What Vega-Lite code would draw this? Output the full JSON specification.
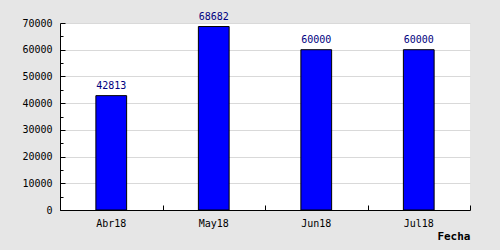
{
  "$schema": "https://vega.github.io/schema/vega-lite/v6.json",
  "width": 410,
  "height": 187,
  "autosize": "none",
  "padding": {"left": 60, "top": 23, "right": 30, "bottom": 40},
  "background": "#e6e6e6",
  "config": {
    "view": {"fill": "white", "stroke": null},
    "axis": {
      "labelFont": "DejaVu Sans Mono",
      "labelFontSize": 10,
      "labelColor": "black",
      "domainColor": "black",
      "tickColor": "black",
      "titleFont": "DejaVu Sans Mono",
      "titleFontSize": 11,
      "titleFontWeight": "bold",
      "titleColor": "black"
    }
  },
  "data": {
    "values": [
      {"Fecha": "Abr18", "valor": 42813},
      {"Fecha": "May18", "valor": 68682},
      {"Fecha": "Jun18", "valor": 60000},
      {"Fecha": "Jul18", "valor": 60000}
    ]
  },
  "resolve": {"axis": {"x": "independent", "y": "independent"}},
  "layer": [
    {
      "mark": {"type": "bar", "fill": "#0000ff", "stroke": "black", "strokeWidth": 1, "width": {"band": 0.3}},
      "encoding": {
        "x": {
          "field": "Fecha",
          "type": "nominal",
          "sort": null,
          "scale": {"paddingInner": 0, "paddingOuter": 0},
          "axis": {
            "orient": "bottom",
            "title": "Fecha",
            "labelAngle": 0,
            "ticks": false,
            "labelPadding": 8,
            "titleAnchor": "end",
            "titleAlign": "right",
            "titlePadding": 2,
            "grid": false
          }
        },
        "y": {
          "field": "valor",
          "type": "quantitative",
          "scale": {"domain": [0, 70000], "nice": false},
          "axis": {
            "orient": "left",
            "title": null,
            "values": [0, 10000, 20000, 30000, 40000, 50000, 60000, 70000],
            "format": "d",
            "grid": true,
            "gridColor": "#d9d9d9",
            "ticks": false,
            "labelPadding": 8
          }
        }
      }
    },
    {
      "mark": {"type": "text", "baseline": "bottom", "dy": -5, "font": "DejaVu Sans Mono", "fontSize": 10, "color": "#000080"},
      "encoding": {
        "x": {
          "field": "Fecha",
          "type": "nominal",
          "sort": null,
          "axis": {
            "orient": "top",
            "offset": -187,
            "title": null,
            "labels": false,
            "domain": false,
            "tickBand": "extent",
            "tickSize": 5,
            "grid": false
          }
        },
        "y": {
          "field": "valor",
          "type": "quantitative",
          "axis": {
            "orient": "right",
            "offset": -410,
            "title": null,
            "labels": false,
            "domain": false,
            "grid": false,
            "values": [0, 5000, 10000, 15000, 20000, 25000, 30000, 35000, 40000, 45000, 50000, 55000, 60000, 65000, 70000],
            "tickSize": {"condition": {"test": "datum.value % 10000 === 0", "value": 5}, "value": 3}
          }
        },
        "text": {"field": "valor", "type": "quantitative", "format": "d"}
      }
    }
  ]
}
